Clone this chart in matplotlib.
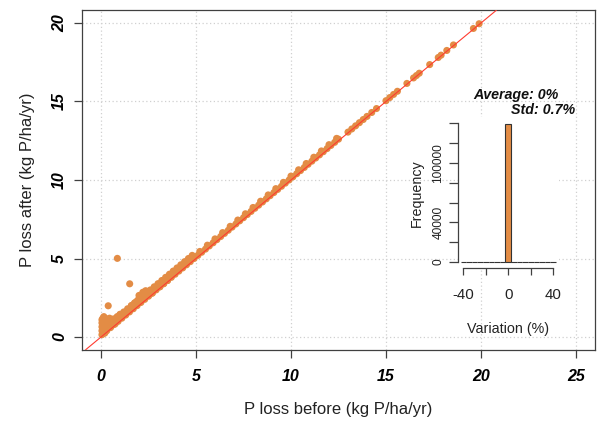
import matplotlib
matplotlib.use("Agg")
import matplotlib.pyplot as plt
from matplotlib.font_manager import FontProperties

# ---------------- data ----------------
# dense band along the 1:1 line
band_before = [0.1, 0.3, 0.5, 0.7, 0.9, 1.1, 1.3, 1.5, 1.7, 1.9, 2.1, 2.3, 2.5, 2.7, 2.9,
               3.1, 3.3, 3.5, 3.7, 3.9, 4.1, 4.3, 4.5, 4.7, 4.9, 5.1, 5.3, 5.5, 5.7, 5.9,
               6.1, 6.3, 6.5, 6.7, 6.9, 7.1, 7.3, 7.5, 7.7, 7.9, 8.1, 8.3, 8.5, 8.7, 8.9,
               9.1, 9.3, 9.5, 9.7, 9.9, 10.1, 10.3, 10.5, 10.7, 10.9, 11.1, 11.3, 11.5,
               11.7, 11.9, 12.1, 12.3, 12.5]
band_after = [0.2, 0.4, 0.6, 0.8, 1.0, 1.2, 1.4, 1.6, 1.8, 2.0, 2.2, 2.4, 2.6, 2.8, 3.0,
              3.2, 3.4, 3.6, 3.8, 4.0, 4.2, 4.4, 4.6, 4.8, 5.0, 5.2, 5.4, 5.6, 5.8, 6.0,
              6.2, 6.4, 6.6, 6.8, 7.0, 7.2, 7.4, 7.6, 7.8, 8.0, 8.2, 8.4, 8.6, 8.8, 9.0,
              9.2, 9.4, 9.6, 9.8, 10.0, 10.2, 10.4, 10.6, 10.8, 11.0, 11.2, 11.4, 11.6,
              11.8, 12.0, 12.2, 12.4, 12.6]
# upper edge of the band
edge_before = [0.2, 0.4, 0.6, 0.8, 1.0, 1.2, 1.4, 1.6, 1.8, 2.0, 2.2, 2.4, 2.6, 2.8,
               3.0, 3.2, 3.4, 3.6, 3.8, 4.0, 4.2, 4.4, 4.6, 4.8, 5.2, 5.6, 6.0, 6.4,
               6.8, 7.2, 7.6, 8.0, 8.4, 8.8, 9.2, 9.6, 10.0, 10.4, 10.8, 11.2, 11.6,
               12.0, 12.4]
edge_after = [0.6, 0.8, 1.0, 1.2, 1.4, 1.6, 1.8, 2.0, 2.2, 2.4, 2.6, 2.8, 3.0, 3.2,
              3.4, 3.6, 3.8, 4.0, 4.2, 4.4, 4.6, 4.8, 5.0, 5.2, 5.45, 5.85, 6.25, 6.65,
              7.05, 7.45, 7.85, 8.25, 8.65, 9.05, 9.45, 9.85, 10.25, 10.65, 11.05,
              11.45, 11.85, 12.25, 12.65]
# cloud near the origin
cloud_before = [0.05, 0.05, 0.05, 0.05, 0.05, 0.1, 0.15, 0.15, 0.25, 0.3, 0.4, 0.5,
                0.6, 0.7, 0.8, 0.9, 1.0, 1.1, 1.2, 1.35, 1.5, 1.65, 1.8, 1.9, 2.0,
                2.1, 2.25, 2.4, 2.55, 2.7, 2.9, 3.1, 3.3, 3.5, 3.7,
                0.1, 0.2, 0.3, 0.45, 0.55, 0.65, 0.75, 0.85, 1.0, 1.25, 1.45, 1.6,
                1.75, 2.0, 2.2, 2.35, 2.5, 2.65, 0.15, 0.3]
cloud_after = [0.15, 0.4, 0.65, 0.9, 1.1, 1.2, 0.7, 1.05, 1.0, 0.75, 1.0, 0.95,
               0.9, 1.0, 1.1, 1.2, 1.25, 1.35, 1.5, 1.6, 1.75, 1.85, 2.0, 2.3, 2.45,
               2.55, 2.7, 2.75, 2.7, 2.8, 3.05, 3.2, 3.4, 3.6, 3.85,
               0.5, 0.25, 1.15, 1.2, 0.7, 1.15, 0.85, 1.3, 1.45, 1.45, 1.75, 2.0,
               2.15, 2.65, 2.85, 2.95, 2.85, 2.95, 1.3, 0.45]
# sparse points at high values
high_before = [13.0, 13.2, 13.4, 13.6, 13.8, 14.0, 14.25, 14.5, 15.0, 15.2, 15.4,
               15.6, 16.1, 16.45, 16.6, 16.75, 17.3, 17.75, 17.9, 18.2, 18.55,
               19.6, 19.9]
high_after = [13.05, 13.25, 13.45, 13.65, 13.85, 14.05, 14.3, 14.55, 15.05, 15.25,
              15.45, 15.65, 16.15, 16.5, 16.65, 16.8, 17.35, 17.8, 17.95, 18.25,
              18.6, 19.65, 19.95]
# outliers
out_before = [0.86, 1.51, 0.38]
out_after = [5.01, 3.39, 1.99]

# histogram of variation (%)
hist_left_edges = [-42.5, -37.5, -32.5, -27.5, -22.5, -17.5, -12.5, -7.5, -2.5,
                   2.5, 7.5, 12.5, 17.5, 22.5, 27.5, 32.5, 37.5]
hist_counts = [0, 0, 0, 0, 0, 0, 0, 0, 139000, 0, 0, 0, 0, 0, 0, 0, 0]
bin_width = 5
avg_pct = "0%"
std_pct = "0.7%"

x_ticks = [0, 5, 10, 15, 20, 25]
y_ticks = [0, 5, 10, 15, 20]
hx_ticks = [-40, -20, 0, 20, 40]
hy_ticks = [0, 20000, 40000, 60000, 80000, 100000, 120000, 140000]
hy_labels = ["0", "", "40000", "", "", "100000", "", ""]
hx_labels = ["-40", "", "0", "", "40"]

# ---------------- style ----------------
FONT = "Liberation Sans"
plt.rcParams["font.family"] = [FONT, "DejaVu Sans"]
PT_COL = "#E38C45"
AX_COL = "#404040"
GRID_COL = "#D0D0D0"

fig = plt.figure(figsize=(6.0, 4.21), dpi=100)
W, H = 600.0, 421.0
ax = fig.add_axes([82 / W, 1 - 349.6 / H, 513 / W, 339.2 / H])
ax.set_xlim(-1, 26)
ax.set_ylim(-0.8, 20.8)
ax.set_axisbelow(True)
ax.grid(True, color=GRID_COL, linestyle=(0, (1, 2)), linewidth=0.9)

for xs, ys in [(band_before, band_after), (edge_before, edge_after),
               (cloud_before, cloud_after), (high_before, high_after),
               (out_before, out_after)]:
    ax.scatter(xs, ys, s=26, color=PT_COL, edgecolors="none", zorder=3)
ax.axline((0, 0), slope=1, color="#FF3B30", linewidth=0.8, zorder=4)

tick_fp = FontProperties(family=FONT, weight="bold", style="italic", size=11.5)
ax.set_xticks(x_ticks)
ax.set_yticks(y_ticks)
ax.set_xticklabels([str(v) for v in x_ticks], fontproperties=tick_fp)
ax.set_yticklabels([str(v) for v in y_ticks], fontproperties=tick_fp,
                   rotation=90, va="center")
ax.tick_params(axis="both", direction="out", length=5.8, width=0.9, color=AX_COL)
ax.tick_params(axis="x", pad=8)
ax.tick_params(axis="y", pad=5)
for sp in ax.spines.values():
    sp.set_color(AX_COL)
    sp.set_linewidth(0.9)
ax.set_xlabel("P loss before (kg P/ha/yr)", fontsize=12, color="#222222", labelpad=13)
ax.set_ylabel("P loss after (kg P/ha/yr)", fontsize=12, color="#222222", labelpad=12)

# ---------------- inset histogram ----------------
ax2 = fig.add_axes([457.7 / W, 1 - 268.4 / H, 101.2 / W, 150.9 / H])
ax2.set_facecolor("white")
ax2.set_xlim(-45, 45)
ax2.set_ylim(-6500, 146000)
ax2.bar(hist_left_edges, hist_counts, width=bin_width, align="edge",
        color=PT_COL, edgecolor="#333333", linewidth=0.8, zorder=3)
for s in ["top", "right"]:
    ax2.spines[s].set_visible(False)
ax2.spines["left"].set_bounds(0, 140000)
ax2.spines["bottom"].set_bounds(-40, 40)
for s in ["left", "bottom"]:
    ax2.spines[s].set_color(AX_COL)
    ax2.spines[s].set_linewidth(0.9)
ax2.set_xticks(hx_ticks)
ax2.set_xticklabels(hx_labels, fontsize=10.8, color="#222222")
ax2.set_yticks(hy_ticks)
ax2.set_yticklabels(hy_labels, fontsize=8.6, color="#222222", rotation=90, va="center")
ax2.tick_params(axis="x", direction="out", length=5.2, width=0.9, color=AX_COL, pad=9)
ax2.tick_params(axis="y", direction="out", length=6.5, width=0.9, color=AX_COL, pad=3)
ax2.set_xlabel("Variation (%)", fontsize=10.3, color="#222222", labelpad=14)
ax2.set_ylabel("Frequency", fontsize=10.3, color="#222222", labelpad=6)

stat_fp = FontProperties(family=FONT, weight="bold", style="italic", size=10.3)
fig.text(559 / W, 1 - 95 / H, "Average: " + avg_pct, fontproperties=stat_fp,
         ha="right", va="center", color="#111111")
fig.text(575 / W, 1 - 110 / H, "Std: " + std_pct, fontproperties=stat_fp,
         ha="right", va="center", color="#111111")

fig.savefig("out.png", dpi=100)
